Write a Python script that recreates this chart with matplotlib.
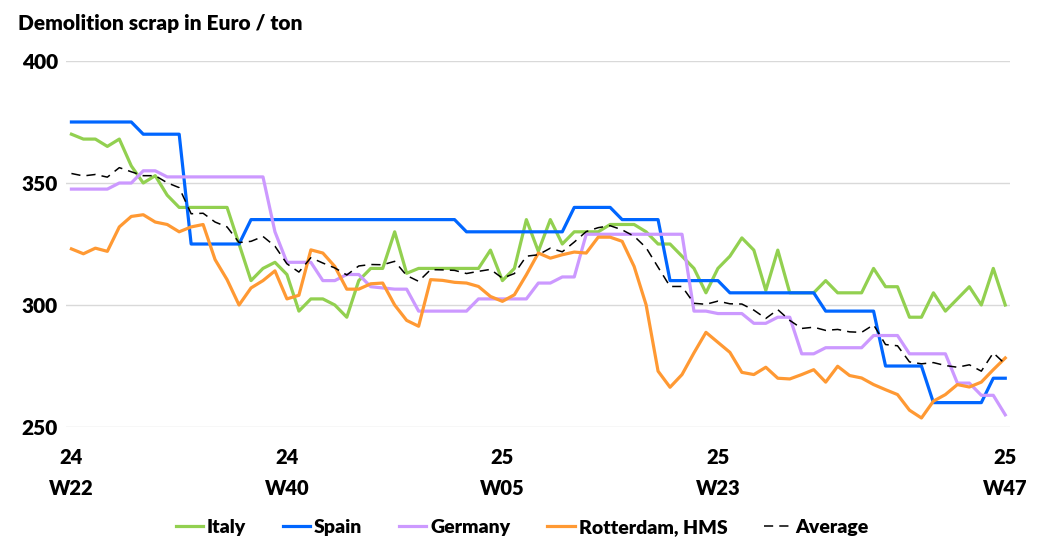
import matplotlib
matplotlib.use("Agg")
import matplotlib.pyplot as plt
import numpy as np

plt.rcParams['font.family'] = ['Lato', 'DejaVu Sans']

# weekly prices, 24 W22 .. 25 W47 (79 weeks)
italy = [370, 368, 368, 365, 368, 357, 350, 353, 345, 340,
         340, 340, 340, 340, 325, 310, 315, 317.5, 312.5, 297.5,
         302.5, 302.5, 300, 295, 310, 315, 315, 330, 313, 315,
         315, 315, 315, 315, 315, 322.5, 310, 315, 335, 322,
         335, 325, 330, 330, 330, 333, 333, 333, 330, 325,
         325, 320, 315, 305, 315, 320, 327.5, 322.5, 306, 322.5,
         305, 305, 305, 310, 305, 305, 305, 315, 307.5, 307.5,
         295, 295, 305, 297.5, 302.5, 307.5, 300, 315, 300]
spain = [375, 375, 375, 375, 375, 375, 370, 370, 370, 370,
         325, 325, 325, 325, 325, 335, 335, 335, 335, 335,
         335, 335, 335, 335, 335, 335, 335, 335, 335, 335,
         335, 335, 335, 330, 330, 330, 330, 330, 330, 330,
         330, 330, 340, 340, 340, 340, 335, 335, 335, 335,
         310, 310, 310, 310, 310, 305, 305, 305, 305, 305,
         305, 305, 305, 297.5, 297.5, 297.5, 297.5, 297.5, 275, 275,
         275, 275, 260, 260, 260, 260, 260, 270, 270]
germany = [347.5, 347.5, 347.5, 347.5, 350, 350, 355, 355, 352.5, 352.5,
           352.5, 352.5, 352.5, 352.5, 352.5, 352.5, 352.5, 330, 317.5, 317.5,
           317.5, 310, 310, 312.5, 312.5, 307.5, 307, 306.5, 306.5, 297.5,
           297.5, 297.5, 297.5, 297.5, 302.5, 302.5, 302.5, 302.5, 302.5, 309,
           309, 311.5, 311.5, 329, 329, 329, 329, 329, 329, 329,
           329, 329, 297.5, 297.5, 296.5, 296.5, 296.5, 292.5, 292.5, 295,
           295, 280, 280, 282.5, 282.5, 282.5, 282.5, 287.5, 287.5, 287.5,
           280, 280, 280, 280, 268, 268, 263, 263, 255]
rotterdam = [323, 321, 323.3, 322, 332, 336.3, 337, 334, 333, 330,
             332, 333, 318.6, 310.4, 300, 307, 310, 314, 302.5, 304,
             322.6, 321.3, 315.8, 306.5, 306.5, 308.7, 309, 300, 293.7, 291.3,
             310.4, 310.1, 309.3, 309, 307.6, 303.5, 301.5, 304.2, 312.4, 321.3,
             319.2, 320.6, 321.7, 321.3, 327.8, 327.8, 326.1, 315.8, 300.1, 272.9,
             266.3, 271.5, 280.4, 288.8, 284.7, 280.6, 272.4, 271.5, 274.5, 270,
             269.7, 271.5, 273.5, 268.4, 274.9, 271.1, 270.1, 267.4, 265.3, 263.3,
             256.9, 253.7, 260.6, 263.3, 267.4, 266.4, 268.4, 273.5, 278.3]
average = [353.9, 352.9, 353.5, 352.4, 356.3, 354.6, 353, 353, 350.1, 348.1,
           337.4, 337.6, 334, 332, 325.6, 326.1, 328.1, 324.1, 316.9, 313.5,
           319.4, 317.2, 315.2, 312.3, 316, 316.6, 316.5, 317.9, 312.1, 309.7,
           314.5, 314.4, 314.2, 312.9, 313.8, 314.6, 311, 312.9, 320, 320.6,
           323.3, 321.8, 325.8, 330.1, 331.7, 332.5, 330.8, 328.2, 323.5, 315.5,
           307.6, 307.6, 300.7, 300.3, 301.6, 300.5, 300.4, 297.9, 294.5, 298.1,
           293.7, 290.4, 290.9, 289.6, 290, 289, 288.8, 291.9, 283.8, 283.3,
           276.7, 275.9, 276.4, 275.2, 274.5, 275.5, 272.9, 280.4, 275.8]

tick_pos = [0, 18, 36, 54, 78]
tick_labels = ['24\nW22', '24\nW40', '25\nW05', '25\nW23', '25\nW47']

x = np.arange(len(italy))

fig = plt.figure(figsize=(10.4, 5.52), dpi=100)
ax = fig.add_axes([0.0635, 0.2264, 0.9077, 0.6631])

ax.plot(x, italy, color='#92D050', lw=2.3, label='Italy')
ax.plot(x, spain, color='#0066FF', lw=2.3, label='Spain')
ax.plot(x, germany, color='#CC99FF', lw=2.3, label='Germany')
ax.plot(x, rotterdam, color='#FF9933', lw=2.3, label='Rotterdam, HMS')
ax.plot(x, average, color='black', lw=1.1, ls=(0, (6, 4)), label='Average')

ax.set_xlim(-0.45, 78.4)
ax.set_ylim(250, 400)
ax.set_yticks([250, 300, 350, 400])
ax.grid(axis='y', color='#D9D9D9', lw=1)
ax.set_axisbelow(True)
for s in ax.spines.values():
    s.set_visible(False)
ax.tick_params(axis='both', length=0)
ax.tick_params(axis='y', pad=6)
ax.set_xticks(tick_pos, tick_labels, linespacing=1.75)
ax.tick_params(axis='x', pad=15)
for lab in ax.get_yticklabels():
    lab.set_fontsize(15)
    lab.set_fontweight('heavy')
for lab in ax.get_xticklabels():
    lab.set_fontsize(14.5)
    lab.set_fontweight('heavy')

fig.text(0.017, 0.958, 'Demolition scrap in Euro / ton', fontsize=15,
         fontweight='heavy', va='center', ha='left')

fig.legend(loc='center', bbox_to_anchor=(0.502, 0.045), ncol=5, frameon=False,
           prop={'weight': 'heavy', 'size': 14}, handlelength=1.4,
           handletextpad=0.2, columnspacing=1.9)

fig.savefig('out.png', dpi=100)
